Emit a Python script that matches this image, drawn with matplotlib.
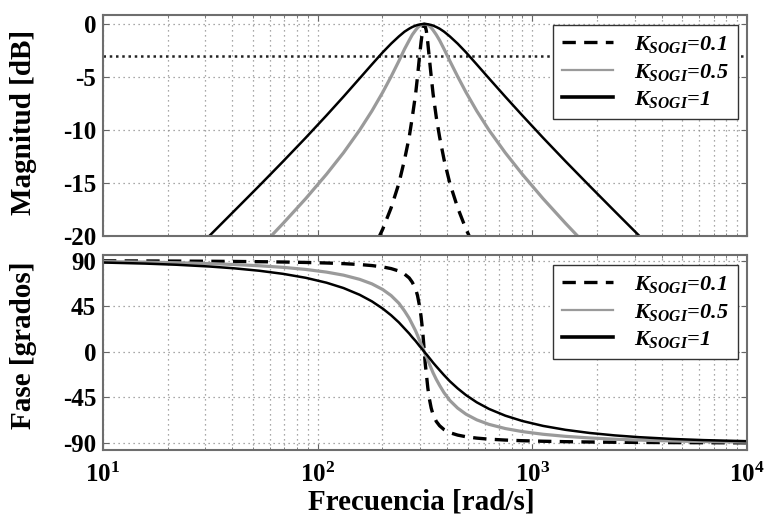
import math
import matplotlib
matplotlib.use("Agg")
import matplotlib.pyplot as plt
from matplotlib.ticker import FixedLocator, FuncFormatter, LogLocator, NullFormatter

plt.rcParams["font.family"] = ["Liberation Serif", "DejaVu Serif"]
plt.rcParams["font.weight"] = "bold"
plt.rcParams["axes.unicode_minus"] = False
plt.rcParams["mathtext.fontset"] = "custom"
plt.rcParams["mathtext.rm"] = "Liberation Serif:bold"
plt.rcParams["mathtext.bf"] = "Liberation Serif:bold"
plt.rcParams["mathtext.it"] = "Liberation Serif:bold:italic"

# Frequency samples [rad/s]
freq = [10, 15.7, 22, 31.4, 40.8, 53.4, 69.1, 88, 110, 132, 157, 179, 201, 220,
        239, 254, 267, 276, 286, 292, 298, 303, 308, 311, 314, 317, 321, 326,
        331, 338, 345, 357, 370, 388, 413, 449, 491, 551, 628, 748, 898, 1122,
        1428, 1848, 2417, 3142, 4488, 6283, 10000]

# Magnitude [dB]
mag_k01 = [-49.94, -46.00, -43.06, -39.91, -37.57, -35.14, -32.72, -30.35, -27.99,
           -25.86, -23.54, -21.50, -19.35, -17.33, -15.04, -12.79, -10.67, -8.79,
           -6.60, -4.93, -3.12, -1.78, -0.66, -0.17, 0.00, -0.17, -0.66, -1.78,
           -3.12, -4.93, -6.60, -8.79, -10.67, -12.79, -15.04, -17.33, -19.35,
           -21.50, -23.54, -25.86, -27.99, -30.35, -32.72, -35.14, -37.57, -39.91,
           -43.06, -46.00, -49.94]
mag_k05 = [-35.96, -32.02, -29.08, -25.94, -23.61, -21.19, -18.80, -16.47, -14.17,
           -12.14, -10.00, -8.20, -6.44, -4.95, -3.49, -2.36, -1.54, -1.01, -0.58,
           -0.35, -0.18, -0.09, -0.03, -0.01, 0.00, -0.01, -0.03, -0.09, -0.18,
           -0.35, -0.58, -1.01, -1.54, -2.36, -3.49, -4.95, -6.44, -8.20, -10.00,
           -12.14, -14.17, -16.47, -18.80, -21.19, -23.61, -25.94, -29.08, -32.02,
           -35.96]
mag_k1 = [-29.95, -26.01, -23.08, -19.96, -17.65, -15.27, -12.95, -10.73, -8.62,
          -6.85, -5.12, -3.81, -2.67, -1.85, -1.17, -0.72, -0.44, -0.28, -0.15,
          -0.09, -0.05, -0.02, -0.01, 0.00, 0.00, 0.00, -0.01, -0.02, -0.05, -0.09,
          -0.15, -0.28, -0.44, -0.72, -1.17, -1.85, -2.67, -3.81, -5.12, -6.85,
          -8.62, -10.73, -12.95, -15.27, -17.65, -19.96, -23.08, -26.01, -29.95]

# Phase [degrees]
ph_k01 = [89.82, 89.71, 89.60, 89.42, 89.24, 89.00, 88.68, 88.26, 87.72, 87.08,
          86.19, 85.17, 83.81, 82.18, 79.80, 76.75, 72.97, 68.69, 62.10, 55.46,
          45.74, 35.48, 22.00, 11.37, 0.00, -11.37, -22.00, -35.48, -45.74, -55.46,
          -62.10, -68.69, -72.97, -76.75, -79.80, -82.18, -83.81, -85.17, -86.19,
          -87.08, -87.72, -88.26, -88.68, -89.00, -89.24, -89.42, -89.60, -89.71,
          -89.82]
ph_k05 = [89.09, 88.56, 87.99, 87.11, 86.22, 85.00, 83.41, 81.36, 78.72, 75.70,
          71.57, 67.11, 61.54, 55.54, 48.02, 40.34, 33.14, 27.15, 20.70, 16.20,
          11.60, 8.11, 4.62, 2.30, 0.00, -2.30, -4.62, -8.11, -11.60, -16.20,
          -20.70, -27.15, -33.14, -40.34, -48.02, -55.54, -61.54, -67.11, -71.57,
          -75.70, -78.72, -81.36, -83.41, -85.00, -86.22, -87.11, -87.99, -88.56,
          -89.09]
ph_k1 = [88.18, 87.13, 85.98, 84.23, 82.47, 80.07, 76.98, 73.10, 68.25, 62.98,
         56.31, 49.82, 42.70, 36.08, 29.06, 23.01, 18.08, 14.36, 10.70, 8.27, 5.86,
         4.08, 2.31, 1.15, 0.00, -1.15, -2.31, -4.08, -5.86, -8.27, -10.70, -14.36,
         -18.08, -23.01, -29.06, -36.08, -42.70, -49.82, -56.31, -62.98, -68.25,
         -73.10, -76.98, -80.07, -82.47, -84.23, -85.98, -87.13, -88.18]

labels = [r"$K_{SOGI}$=0.1", r"$K_{SOGI}$=0.5", r"$K_{SOGI}$=1"]
mag_ticks = [0, -5, -10, -15, -20]
phase_ticks = [90, 45, 0, -45, -90]

styles = [
    dict(color="black", lw=2.4, ls=(0, (4, 2.5))),
    dict(color="#9a9a9a", lw=2.3, ls="-"),
    dict(color="black", lw=1.8, ls="-"),
]

fig = plt.figure(figsize=(7.64, 5.16), dpi=100)
ax1 = fig.add_axes([0.1348, 0.5426, 0.8429, 0.4283])
ax2 = fig.add_axes([0.1348, 0.1279, 0.8429, 0.3779])

for ax, series, yt, ylim, top in (
    (ax1, (mag_k01, mag_k05, mag_k1), mag_ticks, (-20, 0.85), 0.955),
    (ax2, (ph_k01, ph_k05, ph_k1), phase_ticks, (-96.9, 95.6), 0.949),
):
    for ys, st, lab in zip(series, styles, labels):
        ax.plot(freq, ys, label=lab, **st)
    ax.set_xscale("log")
    ax.set_xlim(10, 1e4)
    ax.set_ylim(*ylim)
    ax.yaxis.set_major_locator(FixedLocator(yt))
    ax.xaxis.set_major_locator(LogLocator(base=10, numticks=10))
    ax.xaxis.set_minor_locator(LogLocator(base=10, subs=range(2, 10), numticks=50))
    ax.xaxis.set_minor_formatter(NullFormatter())
    ax.grid(True, which="major", color="#8c8c8c", ls=(0, (1, 3)), lw=0.9)
    ax.grid(True, which="minor", axis="x", color="#8c8c8c", ls=(0, (1, 3)), lw=0.9)
    ax.tick_params(which="both", direction="in", top=True, right=True,
                   labelsize=18, color="#666666")
    ax.tick_params(which="major", length=4, pad=5)
    ax.tick_params(which="minor", length=2)
    ax.tick_params(axis="x", which="major", pad=9)
    for sp in ax.spines.values():
        sp.set_color("#6e6e6e")
        sp.set_linewidth(1.5)
    leg = ax.legend(loc="upper right", bbox_to_anchor=(0.986, top),
                    borderaxespad=0, fancybox=False, framealpha=1,
                    edgecolor="#333333", handlelength=2.3, labelspacing=0.3,
                    borderpad=0.4, handletextpad=0.95,
                    prop=dict(family="Liberation Serif", weight="bold",
                              style="italic", size=16))
    leg.get_frame().set_linewidth(1.0)
    for h, w in zip(leg.get_lines(), (2.4, 1.6, 2.6)):
        h.set_linewidth(w)

# -3 dB reference line
ax1.axhline(-3, color="#222222", ls=(0, (1, 1.5)), lw=1.8, zorder=1.5)

ax1.xaxis.set_major_formatter(NullFormatter())
ax2.xaxis.set_major_formatter(
    FuncFormatter(lambda v, p: r"$\mathbf{10^{%d}}$" % round(math.log10(v))))

fig.text(0.031, 0.763, "Magnitud [dB]", rotation=90, ha="center", va="center",
         fontsize=21, fontweight="bold")
fig.text(0.031, 0.330, "Fase [grados]", rotation=90, ha="center", va="center",
         fontsize=21, fontweight="bold")
fig.text(0.551, 0.013, "Frecuencia [rad/s]", ha="center", va="baseline",
         fontsize=21, fontweight="bold")

fig.savefig("out.png", dpi=100)
